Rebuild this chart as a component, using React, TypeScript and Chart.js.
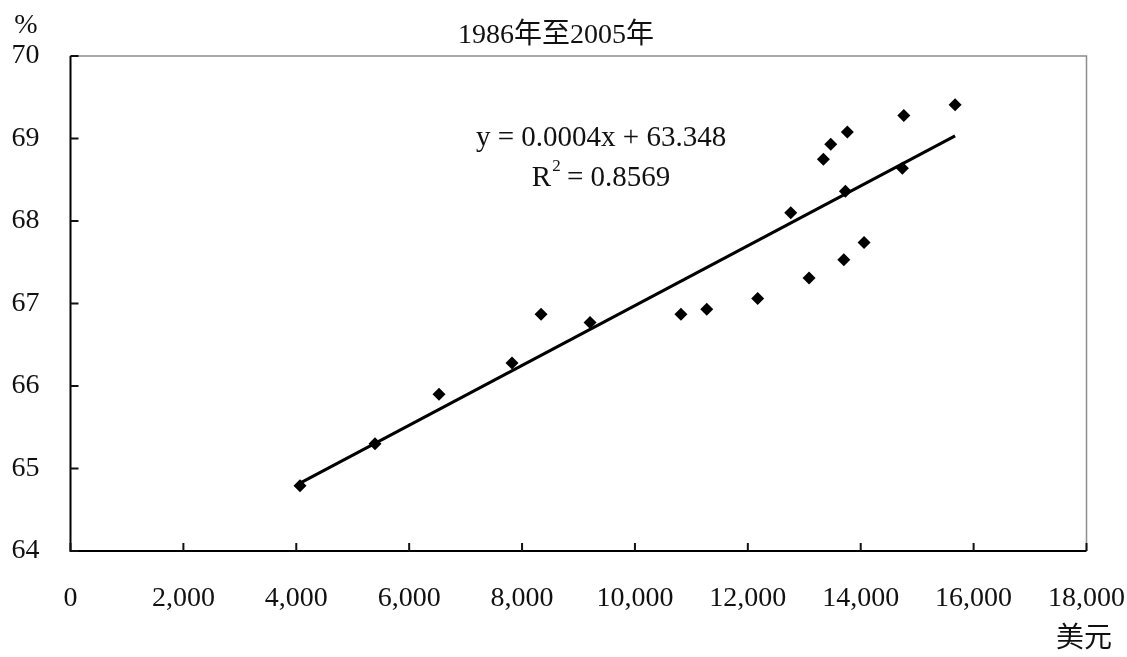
import React, { useEffect, useRef } from "react";
import { Chart, registerables } from "chart.js";

Chart.register(...registerables);

const title = "1986年至2005年";
const yUnit = "%";
const xUnit = "美元";
const gdpPerCapita = [
  4066, 5395, 6529, 7822, 8337, 9205, 10815, 11272, 12175, 12760,
  13085, 13338, 13469, 13700, 13728, 13763, 14059, 14738, 14763, 15672,
];
const rate = [
  64.79, 65.3, 65.9, 66.28, 66.87, 66.77, 66.87, 66.93, 67.06, 68.1,
  67.31, 68.75, 68.93, 67.53, 68.36, 69.08, 67.74, 68.64, 69.28, 69.41,
];
const equationLine1 = "y = 0.0004x + 63.348";
const equationLine2a = "R";
const equationLine2sup = "2";
const equationLine2b = " = 0.8569";
const xTicks = [0, 2000, 4000, 6000, 8000, 10000, 12000, 14000, 16000, 18000];
const yTicks = [64, 65, 66, 67, 68, 69, 70];

const FONT = '"Liberation Serif", "Noto Sans CJK TC", serif';

function fit(xs: number[], ys: number[]) {
  const n = xs.length;
  const mx = xs.reduce((a, b) => a + b, 0) / n;
  const my = ys.reduce((a, b) => a + b, 0) / n;
  let sxy = 0;
  let sxx = 0;
  for (let i = 0; i < n; i++) {
    sxy += (xs[i] - mx) * (ys[i] - my);
    sxx += (xs[i] - mx) * (xs[i] - mx);
  }
  const b = sxy / sxx;
  return { b, a: my - b * mx };
}

export default function App() {
  const ref = useRef<HTMLCanvasElement | null>(null);

  useEffect(() => {
    document.body.style.margin = "0";
    const canvas = ref.current!;
    const { a, b } = fit(gdpPerCapita, rate);
    const xMin = Math.min(...gdpPerCapita);
    const xMax = Math.max(...gdpPerCapita);
    const trend = [
      { x: xMin, y: a + b * xMin },
      { x: xMax, y: a + b * xMax },
    ];

    const framePlugin = {
      id: "frame",
      beforeDatasetsDraw(chart: any) {
        const ctx = chart.ctx;
        const { left, right, top, bottom } = chart.chartArea;
        const xs = chart.scales.x;
        const ys = chart.scales.y;
        ctx.save();
        ctx.strokeStyle = "#8c8c8c";
        ctx.lineWidth = 1.5;
        ctx.beginPath();
        ctx.moveTo(left, top);
        ctx.lineTo(right, top);
        ctx.lineTo(right, bottom);
        ctx.stroke();
        ctx.strokeStyle = "#000";
        ctx.lineWidth = 2;
        ctx.beginPath();
        ctx.moveTo(left, top);
        ctx.lineTo(left, bottom);
        ctx.lineTo(right, bottom);
        ctx.stroke();
        ctx.lineWidth = 2;
        ctx.strokeStyle = "#111";
        ctx.beginPath();
        xTicks.forEach((v) => {
          const px = xs.getPixelForValue(v);
          ctx.moveTo(px, bottom);
          ctx.lineTo(px, bottom - 8);
        });
        yTicks.forEach((v) => {
          const py = ys.getPixelForValue(v);
          ctx.moveTo(left, py);
          ctx.lineTo(left + 8, py);
        });
        ctx.stroke();
        ctx.restore();
      },
      afterDraw(chart: any) {
        const ctx = chart.ctx;
        const xs = chart.scales.x;
        const ys = chart.scales.y;
        ctx.save();
        ctx.fillStyle = "#111";
        ctx.textBaseline = "middle";
        ctx.font = `28px ${FONT}`;
        ctx.textAlign = "center";
        ctx.fillText(title, 556, 36);
        ctx.fillText(yUnit, 26, 26);
        ctx.fillText(xUnit, 1084, 640);
        const ex = xs.getPixelForValue(9400);
        ctx.font = `29px ${FONT}`;
        ctx.fillText(equationLine1, ex, ys.getPixelForValue(69.0));
        const y2 = ys.getPixelForValue(68.52);
        const wR = ctx.measureText(equationLine2a).width;
        ctx.font = `17px ${FONT}`;
        const wS = ctx.measureText(equationLine2sup).width;
        ctx.font = `29px ${FONT}`;
        const wB = ctx.measureText(equationLine2b).width;
        const total = wR + wS + wB;
        let cx = ex - total / 2;
        ctx.textAlign = "left";
        ctx.fillText(equationLine2a, cx, y2);
        cx += wR;
        ctx.font = `17px ${FONT}`;
        ctx.fillText(equationLine2sup, cx + 1, y2 - 12);
        cx += wS;
        ctx.font = `29px ${FONT}`;
        ctx.fillText(equationLine2b, cx, y2);
        ctx.restore();
      },
    };

    const chart = new Chart(canvas, {
      type: "scatter",
      data: {
        datasets: [
          {
            label: "data",
            data: gdpPerCapita.map((x, i) => ({ x, y: rate[i] })),
            pointStyle: "rectRot",
            pointRadius: 6.5,
            pointBorderWidth: 0,
            backgroundColor: "#000",
            borderColor: "#000",
            order: 1,
          },
          {
            type: "line",
            label: "trend",
            data: trend,
            borderColor: "#000",
            borderWidth: 3,
            pointRadius: 0,
            fill: false,
            order: 2,
          } as any,
        ],
      },
      options: {
        responsive: false,
        animation: false,
        layout: { padding: { left: 0.5, top: 56, right: 40.5, bottom: 0 } },
        plugins: {
          legend: { display: false },
          tooltip: { enabled: false },
          title: { display: false },
        },
        scales: {
          x: {
            type: "linear",
            min: 0,
            max: 18000,
            afterBuildTicks: (s: any) => {
              s.ticks = xTicks.map((v) => ({ value: v }));
            },
            afterFit: (s: any) => {
              s.height = 106;
              s.paddingLeft = 0;
              s.paddingRight = 0;
            },
            ticks: {
              padding: 31,
              color: "#111",
              font: { family: FONT, size: 28 },
              callback: (v: any) => Number(v).toLocaleString("en-US"),
            },
            grid: { display: false, drawTicks: false },
            border: { display: false },
          },
          y: {
            type: "linear",
            min: 64,
            max: 70,
            afterBuildTicks: (s: any) => {
              s.ticks = yTicks.map((v) => ({ value: v }));
            },
            afterFit: (s: any) => {
              s.width = 70;
              s.paddingTop = 0;
              s.paddingBottom = 0;
            },
            ticks: {
              padding: 31,
              color: "#111",
              font: { family: FONT, size: 28 },
            },
            grid: { display: false, drawTicks: false },
            border: { display: false },
          },
        },
      },
      plugins: [framePlugin],
    });
    return () => chart.destroy();
  }, []);

  return (
    <div style={{ width: 1127, height: 657 }}>
      <canvas ref={ref} width={1127} height={657} style={{ display: "block" }} />
    </div>
  );
}
